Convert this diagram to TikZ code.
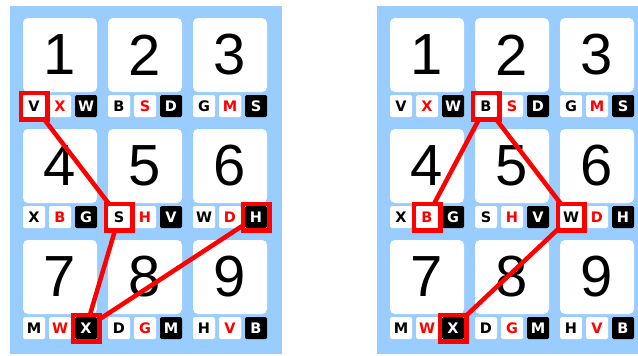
\documentclass[tikz,border=0pt]{standalone}
\usepackage{fontspec}
\newfontfamily\numfont{Liberation Sans}
\newfontfamily\letfont{DejaVu Sans}
\definecolor{panelBlue}{HTML}{99CCFF}
\definecolor{markRed}{HTML}{FF0000}
\tikzset{
  card/.style={fill=white,rounded corners=5pt,minimum size=74pt,inner sep=0pt,
    font=\numfont\fontsize{58}{58}\selectfont},
  lw/.style={fill=white,rounded corners=1.5pt,minimum size=22pt,inner sep=0pt,
    font=\letfont\bfseries\fontsize{14.5}{14.5}\selectfont,text=black},
  lr/.style={lw,text=markRed},
  lb/.style={lw,fill=black,text=white},
  selbox/.style={draw=markRed,line width=4.5pt,minimum size=26.5pt,inner sep=0pt,outer sep=0pt},
  redlink/.style={draw=markRed,line width=4.5pt}}
\begin{document}
\begin{tikzpicture}[x=1pt,y=-1pt]
\useasboundingbox (0,0) rectangle (638,356);
\fill[panelBlue] (10,6) rectangle (282,354);
\fill[panelBlue] (377,6) rectangle (638,354);
% left panel
\node[card] (l1) at (60,55) {1};\node[lw] (l1a) at (34,106) {V};\node[lr] (l1b) at (60,106) {X};\node[lb] (l1c) at (86,106) {W};
\node[card] (l2) at (145,55) {2};\node[lw] (l2a) at (119,106) {B};\node[lr] (l2b) at (145,106) {S};\node[lb] (l2c) at (171,106) {D};
\node[card] (l3) at (230,55) {3};\node[lw] (l3a) at (204,106) {G};\node[lr] (l3b) at (230,106) {M};\node[lb] (l3c) at (256,106) {S};
\node[card] (l4) at (60,166) {4};\node[lw] (l4a) at (34,217) {X};\node[lr] (l4b) at (60,217) {B};\node[lb] (l4c) at (86,217) {G};
\node[card] (l5) at (145,166) {5};\node[lw] (l5a) at (119,217) {S};\node[lr] (l5b) at (145,217) {H};\node[lb] (l5c) at (171,217) {V};
\node[card] (l6) at (230,166) {6};\node[lw] (l6a) at (204,217) {W};\node[lr] (l6b) at (230,217) {D};\node[lb] (l6c) at (256,217) {H};
\node[card] (l7) at (60,277) {7};\node[lw] (l7a) at (34,328) {M};\node[lr] (l7b) at (60,328) {W};\node[lb] (l7c) at (86,328) {X};
\node[card] (l8) at (145,277) {8};\node[lw] (l8a) at (119,328) {D};\node[lr] (l8b) at (145,328) {G};\node[lb] (l8c) at (171,328) {M};
\node[card] (l9) at (230,277) {9};\node[lw] (l9a) at (204,328) {H};\node[lr] (l9b) at (230,328) {V};\node[lb] (l9c) at (256,328) {B};
% right panel
\node[card] (r1) at (427,55) {1};\node[lw] (r1a) at (401,106) {V};\node[lr] (r1b) at (427,106) {X};\node[lb] (r1c) at (453,106) {W};
\node[card] (r2) at (512,55) {2};\node[lw] (r2a) at (486,106) {B};\node[lr] (r2b) at (512,106) {S};\node[lb] (r2c) at (538,106) {D};
\node[card] (r3) at (597,55) {3};\node[lw] (r3a) at (571,106) {G};\node[lr] (r3b) at (597,106) {M};\node[lb] (r3c) at (623,106) {S};
\node[card] (r4) at (427,166) {4};\node[lw] (r4a) at (401,217) {X};\node[lr] (r4b) at (427,217) {B};\node[lb] (r4c) at (453,217) {G};
\node[card] (r5) at (512,166) {5};\node[lw] (r5a) at (486,217) {S};\node[lr] (r5b) at (512,217) {H};\node[lb] (r5c) at (538,217) {V};
\node[card] (r6) at (597,166) {6};\node[lw] (r6a) at (571,217) {W};\node[lr] (r6b) at (597,217) {D};\node[lb] (r6c) at (623,217) {H};
\node[card] (r7) at (427,277) {7};\node[lw] (r7a) at (401,328) {M};\node[lr] (r7b) at (427,328) {W};\node[lb] (r7c) at (453,328) {X};
\node[card] (r8) at (512,277) {8};\node[lw] (r8a) at (486,328) {D};\node[lr] (r8b) at (512,328) {G};\node[lb] (r8c) at (538,328) {M};
\node[card] (r9) at (597,277) {9};\node[lw] (r9a) at (571,328) {H};\node[lr] (r9b) at (597,328) {V};\node[lb] (r9c) at (623,328) {B};
% picked letters
\node[selbox] (hA) at (l1a) {};\node[selbox] (hB) at (l5a) {};\node[selbox] (hC) at (l7c) {};\node[selbox] (hD) at (l6c) {};
\draw[redlink] (hA) -- (hB);\draw[redlink] (hB) -- (hC);\draw[redlink] (hC) -- (hD);
\node[selbox] (gA) at (r2a) {};\node[selbox] (gB) at (r4b) {};\node[selbox] (gC) at (r6a) {};\node[selbox] (gD) at (r7c) {};
\draw[redlink] (gB) -- (gA);\draw[redlink] (gA) -- (gC);\draw[redlink] (gC) -- (gD);
\end{tikzpicture}
\end{document}
